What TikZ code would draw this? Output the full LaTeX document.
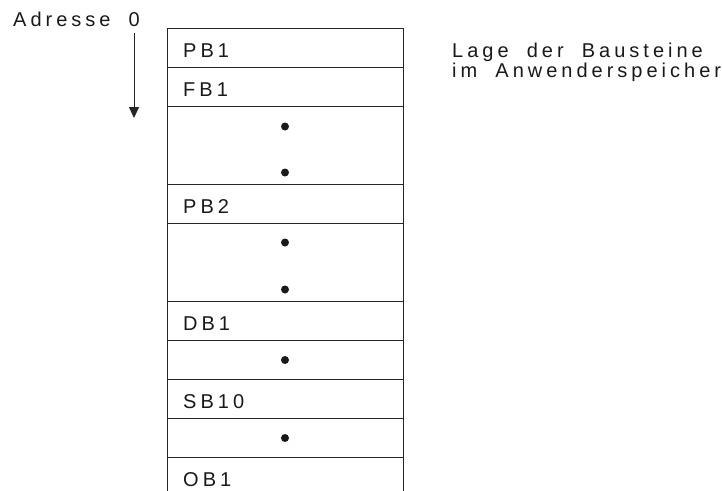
\documentclass[tikz,border=0pt]{standalone}
\usepackage{fontspec}
\setmainfont{Liberation Sans}[LetterSpace=20,WordSpace=1.9]
\usetikzlibrary{positioning,arrows.meta}

\begin{document}
\begin{tikzpicture}[x=1pt,y=-1pt,
  zelle/.style={draw=black!85,line width=0.9pt,minimum width=236pt,minimum height=#1,inner sep=0pt,outer sep=0pt},
  zelle/.default=39pt,
  beschr/.style={anchor=base west,inner sep=0pt,text=black!90,font=\fontsize{20}{20}\selectfont},
  punkt/.style={circle,fill=black!90,minimum size=8pt,inner sep=0pt},
  pfeil/.style={draw=black!85,line width=0.9pt,-{Triangle[length=11pt,width=10pt]}}]
\useasboundingbox (0,0) rectangle (722,490);

% Speicherzellen von oben nach unten
\node[zelle,anchor=north west] (pb1) at (167,28.5) {};
\node[zelle,below=0pt of pb1] (fb1) {};
\node[zelle=78pt,below=0pt of fb1] (luecke1) {};
\node[zelle,below=0pt of luecke1] (pb2) {};
\node[zelle=78pt,below=0pt of pb2] (luecke2) {};
\node[zelle,below=0pt of luecke2] (db1) {};
\node[zelle,below=0pt of db1] (luecke3) {};
\node[zelle,below=0pt of luecke3] (sb10) {};
\node[zelle,below=0pt of sb10] (luecke4) {};
% letzte Zelle ist unten offen
\draw[draw=black!85,line width=0.9pt] (luecke4.south west) -- ++(0,33) (luecke4.south east) -- ++(0,33);

% Bausteinnamen
\foreach \z/\t in {pb1/PB1,fb1/FB1,pb2/PB2,db1/DB1,sb10/SB10}
  \node[beschr] at ([xshift=16pt,yshift=-28.5pt]\z.north west) {\t};
\node[beschr] (ob1) at ([xshift=16pt,yshift=-28.5pt]luecke4.south west) {OB1};

% Punkte fuer weitere Bausteine
\node[punkt] at ([yshift=-20pt]luecke1.north) {};
\node[punkt] at ([yshift=-66pt]luecke1.north) {};
\node[punkt] at ([yshift=-19pt]luecke2.north) {};
\node[punkt] at ([yshift=-66pt]luecke2.north) {};
\node[punkt] at (luecke3.center) {};
\node[punkt] at (luecke4.center) {};

% Adressrichtung
\node[beschr] (adr) at (13,26) {Adresse 0};
\coordinate (pfeilende) at (134,118);
\draw[pfeil] (pfeilende |- adr.base) ++(0,7) -- (pfeilende);

\node[beschr,anchor=north west,align=left] (lage) at (452,42.5) {Lage der Bausteine\\im Anwenderspeicher};
\end{tikzpicture}
\end{document}
